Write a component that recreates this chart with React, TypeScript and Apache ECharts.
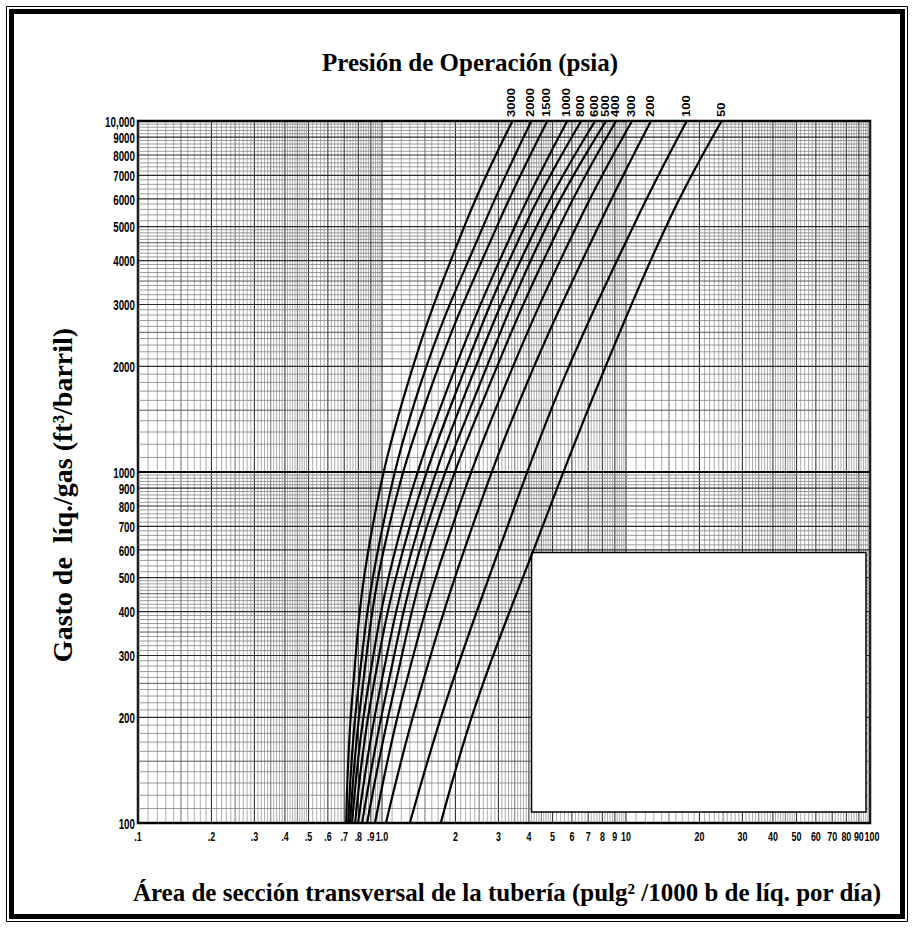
import React, { useEffect, useRef } from 'react';
import * as echarts from 'echarts';

// ---- data ----
const pressures = ['3000', '2000', '1500', '1000', '800', '600', '500', '400', '300', '200', '100', '50'];
// gas rate levels (ft3/barril) where each curve was read
const gasRates = [100, 225, 640, 1830, 5200, 10000];
// area (pulg2 / 1000 b liq. por dia) of each curve at those levels
const area3000 = [0.713, 0.754, 0.894, 1.289, 2.223, 3.425];
const area2000 = [0.727, 0.79, 0.981, 1.457, 2.658, 4.095];
const area1500 = [0.74, 0.821, 1.038, 1.63, 3.031, 4.76];
const area1000 = [0.754, 0.861, 1.162, 1.913, 3.591, 5.744];
const area800 = [0.776, 0.902, 1.253, 2.101, 3.944, 6.551];
const area600 = [0.798, 0.963, 1.364, 2.308, 4.415, 7.472];
const area500 = [0.829, 1.028, 1.47, 2.559, 4.85, 8.286];
const area400 = [0.869, 1.099, 1.6, 2.812, 5.481, 9.104];
const area300 = [0.936, 1.206, 1.86, 3.268, 6.43, 10.58];
const area200 = [1.038, 1.402, 2.244, 3.981, 7.906, 12.65];
const area100 = [1.301, 1.842, 3.118, 5.533, 10.99, 17.74];
const area50 = [1.741, 2.465, 4.332, 7.831, 14.98, 24.65];
const curveAreas = [area3000, area2000, area1500, area1000, area800, area600, area500, area400, area300, area200, area100, area50];

const xTickValues = [0.1, 0.2, 0.3, 0.4, 0.5, 0.6, 0.7, 0.8, 0.9, 1, 2, 3, 4, 5, 6, 7, 8, 9, 10, 20, 30, 40, 50, 60, 70, 80, 90, 100];
const xTickLabels = ['.1', '.2', '.3', '.4', '.5', '.6', '.7', '.8', '.9', '1.0', '2', '3', '4', '5', '6', '7', '8', '9', '10', '20', '30', '40', '50', '60', '70', '80', '90', '100'];
const yTickValues = [100, 200, 300, 400, 500, 600, 700, 800, 900, 1000, 2000, 3000, 4000, 5000, 6000, 7000, 8000, 9000, 10000];
const yTickLabels = ['100', '200', '300', '400', '500', '600', '700', '800', '900', '1000', '2000', '3000', '4000', '5000', '6000', '7000', '8000', '9000', '10,000'];

// blank box in lower right: [xMin, xMax, yMin, yMax]
const blankBox = [4.1, 96.3, 107.5, 590];

const X_MIN = 0.1, X_MAX = 100, Y_MIN = 100, Y_MAX = 10000;
const xDecades = [0.1, 1, 10];
const yDecades = [100, 1000];

// graph-paper rulings: 1..5 in tenths, 5..10 in fifths
function paperLines(decades: number[], top: number) {
  const out: number[][] = [];
  for (const d of decades) {
    for (let i = 10; i < 50; i++) {
      const w = i === 10 ? 3 : i % 10 === 0 ? 2 : i % 5 === 0 ? 1 : 0;
      out.push([(d * i) / 10, w]);
    }
    for (let i = 50; i < 100; i += 2) {
      const w = i % 10 === 0 ? 2 : 0;
      out.push([(d * i) / 10, w]);
    }
  }
  out.push([top, 3]);
  return out;
}

const SANS = '"Liberation Sans", Arial, sans-serif';
const SERIF = '"Liberation Serif", "Times New Roman", serif';

const vStroke = ['#8a8a8a', '#5e5e5e', '#333', '#333'];
const vWidth = [0.7, 0.9, 1.1, 1.1];
const hStroke = ['#7a7a7a', '#505050', '#2a2a2a', '#000'];
const hWidth = [0.75, 0.95, 1.15, 1.8];

export default function App() {
  const ref = useRef<HTMLDivElement>(null);
  useEffect(() => {
    if (!ref.current) return;
    const chart = echarts.init(ref.current, null, { renderer: 'svg' });

    const vLines = paperLines(xDecades, X_MAX).map(([v, w]) => [v, Y_MIN, w]);
    const hLines = paperLines(yDecades, Y_MAX).map(([v, w]) => [X_MIN, v, w]);

    const curveSeries = curveAreas.map((arr, idx) => ({
      type: 'line',
      name: pressures[idx],
      data: arr.map((x, i) => [x, gasRates[i]]),
      smooth: 0.4,
      showSymbol: false,
      symbol: 'none',
      silent: true,
      z: 5,
      lineStyle: { color: '#000', width: 2.2 },
    }));

    const textStyle = (text: string, font: string, align: string) => ({
      text, font, fill: '#000', align, verticalAlign: 'middle', textAlign: align, textVerticalAlign: 'middle',
    });

    const lastX = xTickValues.length - 1;

    const option: any = {
      animation: false,
      backgroundColor: '#fff',
      grid: {
        left: 138,
        top: 121,
        width: 732,
        height: 702,
        show: true,
        backgroundColor: '#fff',
        borderColor: '#000',
        borderWidth: 2.5,
      },
      xAxis: {
        type: 'log', logBase: 10, min: X_MIN, max: X_MAX,
        axisLine: { show: false }, axisTick: { show: false }, axisLabel: { show: false }, splitLine: { show: false },
      },
      yAxis: {
        type: 'log', logBase: 10, min: Y_MIN, max: Y_MAX,
        axisLine: { show: false }, axisTick: { show: false }, axisLabel: { show: false }, splitLine: { show: false },
      },
      graphic: [
        { type: 'rect', shape: { x: 6.5, y: 6.5, width: 901, height: 915 }, style: { fill: 'none', stroke: '#000', lineWidth: 1 } },
        { type: 'rect', shape: { x: 11.5, y: 11.5, width: 891, height: 905 }, style: { fill: 'none', stroke: '#000', lineWidth: 5 } },
        { type: 'text', x: 470, y: 62, style: textStyle('Presión de Operación (psia)', `bold 25px ${SERIF}`, 'center') },
        { type: 'text', x: 507, y: 892, style: textStyle('Área de sección transversal de la tubería (pulg² /1000 b de líq. por día)', `bold 25px ${SERIF}`, 'center') },
        { type: 'text', x: 62, y: 495, rotation: Math.PI / 2, style: textStyle('Gasto de  líq./gas (ft³/barril)', `bold 28px ${SERIF}`, 'center') },
      ],
      series: [
        {
          type: 'custom', silent: true, z: 1, data: vLines,
          renderItem: (params: any, api: any) => {
            const v = api.value(0);
            const w = api.value(2);
            const p1 = api.coord([v, Y_MIN]);
            const p2 = api.coord([v, Y_MAX]);
            return { type: 'line', shape: { x1: p1[0], y1: p1[1], x2: p2[0], y2: p2[1] }, style: { stroke: vStroke[w], lineWidth: vWidth[w] } };
          },
        },
        {
          type: 'custom', silent: true, z: 1, data: hLines,
          renderItem: (params: any, api: any) => {
            const v = api.value(1);
            const w = api.value(2);
            const p1 = api.coord([X_MIN, v]);
            const p2 = api.coord([X_MAX, v]);
            return { type: 'line', shape: { x1: p1[0], y1: p1[1], x2: p2[0], y2: p2[1] }, style: { stroke: hStroke[w], lineWidth: hWidth[w] } };
          },
        },
        {
          type: 'custom', silent: true, z: 3,
          data: [[blankBox[0], blankBox[2], blankBox[1], blankBox[3]]],
          renderItem: (params: any, api: any) => {
            const tl = api.coord([api.value(0), api.value(3)]);
            const br = api.coord([api.value(2), api.value(1)]);
            return { type: 'rect', shape: { x: tl[0], y: tl[1], width: br[0] - tl[0], height: br[1] - tl[1] }, style: { fill: '#fff', stroke: '#000', lineWidth: 1.5 } };
          },
        },
        ...curveSeries,
        {
          type: 'custom', silent: true, clip: false, z: 6,
          data: curveAreas.map((arr, idx) => [arr[arr.length - 1], Y_MAX, idx]),
          renderItem: (params: any, api: any) => {
            const p = api.coord([api.value(0), api.value(1)]);
            const idx = api.value(2);
            return {
              type: 'text', x: p[0] - 1, y: p[1] - 4, rotation: Math.PI / 2, scaleX: 1, scaleY: 0.8,
              style: textStyle(pressures[idx], `bold 13px ${SANS}`, 'left'),
            };
          },
        },
        {
          type: 'custom', silent: true, clip: false, z: 6,
          data: xTickValues.map((v, i) => [v, Y_MIN, i]),
          renderItem: (params: any, api: any) => {
            const p = api.coord([api.value(0), api.value(1)]);
            const idx = api.value(2);
            return {
              type: 'text', x: p[0] + (idx === lastX ? 2 : 0), y: p[1] + 13, scaleX: 0.66,
              style: textStyle(xTickLabels[idx], `bold 13.5px ${SANS}`, 'center'),
            };
          },
        },
        {
          type: 'custom', silent: true, clip: false, z: 6,
          data: yTickValues.map((v, i) => [X_MIN, v, i]),
          renderItem: (params: any, api: any) => {
            const p = api.coord([api.value(0), api.value(1)]);
            const idx = api.value(2);
            return {
              type: 'text', x: p[0] - 3, y: p[1] + 1, scaleX: 0.7,
              style: textStyle(yTickLabels[idx], `bold 14px ${SANS}`, 'right'),
            };
          },
        },
      ],
    };
    chart.setOption(option);
    return () => chart.dispose();
  }, []);
  return <div ref={ref} style={{ position: 'absolute', left: 0, top: 0, width: 914, height: 928 }} />;
}
